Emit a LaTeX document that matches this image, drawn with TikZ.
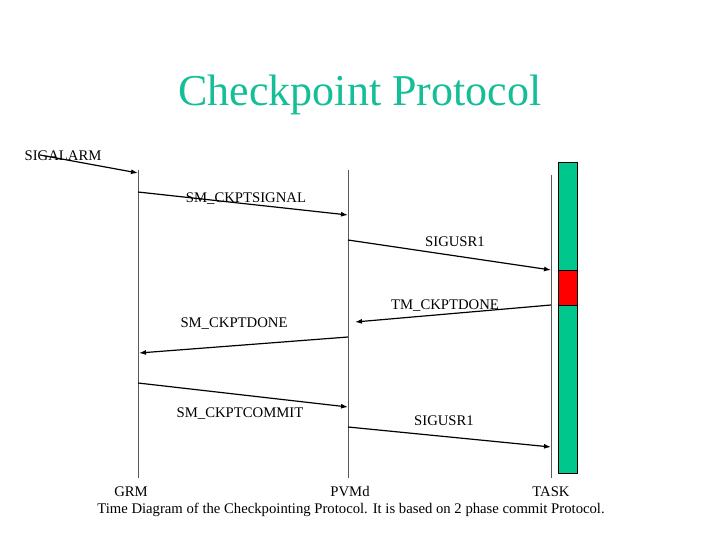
\documentclass[tikz,border=0pt]{standalone}
\usepackage{fontspec}
\setmainfont{Liberation Serif}
\usetikzlibrary{arrows.meta}
\begin{document}
\begin{tikzpicture}[x=1pt,y=-1pt,
  lbl/.style={font=\fontsize{14.7}{16}\selectfont},
  msg/.style={-{Latex[length=7pt,width=5pt]},line width=1.2pt},
  life/.style={gray!70!black,line width=0.7pt}]
\useasboundingbox (0,0) rectangle (720,540);
\node[text={rgb,255:red,20;green,190;blue,150},font=\fontsize{44}{48}\selectfont] (title) at (360,95) {Checkpoint Protocol};
\coordinate (g1) at (138,170); \coordinate (g2) at (138,478);
\coordinate (p1) at (348,170); \coordinate (p2) at (348,478);
\coordinate (t1) at (551,175); \coordinate (t2) at (551,478);
\draw[life] (g1) -- (g2); \draw[life] (p1) -- (p2); \draw[life] (t1) -- (t2);
\node[draw,fill={rgb,255:red,0;green,200;blue,140},minimum width=19pt,minimum height=311pt,inner sep=0] (bar) at (567.5,317.5) {};
\node[draw,fill=red,minimum width=19pt,minimum height=35pt,inner sep=0] (red) at (567.5,287.5) {};
\coordinate (a0) at (40,155); \coordinate (a1) at (138,173);
\coordinate (b0) at (138,192); \coordinate (b1) at (348,215);
\coordinate (c0) at (348,240); \coordinate (c1) at (551,270);
\coordinate (d0) at (551,305); \coordinate (d1) at (355,322);
\coordinate (e0) at (348,337); \coordinate (e1) at (139,353);
\coordinate (f0) at (138,383); \coordinate (f1) at (348,407);
\coordinate (h0) at (348,427); \coordinate (h1) at (551,447);
\draw[msg] (a0) -- (a1); \draw[msg] (b0) -- (b1); \draw[msg] (c0) -- (c1);
\draw[msg] (d0) -- (d1); \draw[msg] (e0) -- (e1); \draw[msg] (f0) -- (f1);
\draw[msg] (h0) -- (h1);
\node[lbl] (la) at (63,156) {SIGALARM};
\node[lbl] (lb) at (246,199) {SM\_CKPTSIGNAL};
\node[lbl] (lc) at (455,242) {SIGUSR1};
\node[lbl] (ld) at (445,306) {TM\_CKPTDONE};
\node[lbl] (le) at (234,324) {SM\_CKPTDONE};
\node[lbl] (lf) at (240,414) {SM\_CKPTCOMMIT};
\node[lbl] (lh) at (444,421) {SIGUSR1};
\node[lbl] (ng) at (131,492) {GRM};
\node[lbl] (np) at (350,492) {PVMd};
\node[lbl] (nt) at (551,492) {TASK};
\node[lbl] (cap) at (351,510) {Time Diagram of the Checkpointing Protocol. It is based on 2 phase commit Protocol.};
\end{tikzpicture}
\end{document}
